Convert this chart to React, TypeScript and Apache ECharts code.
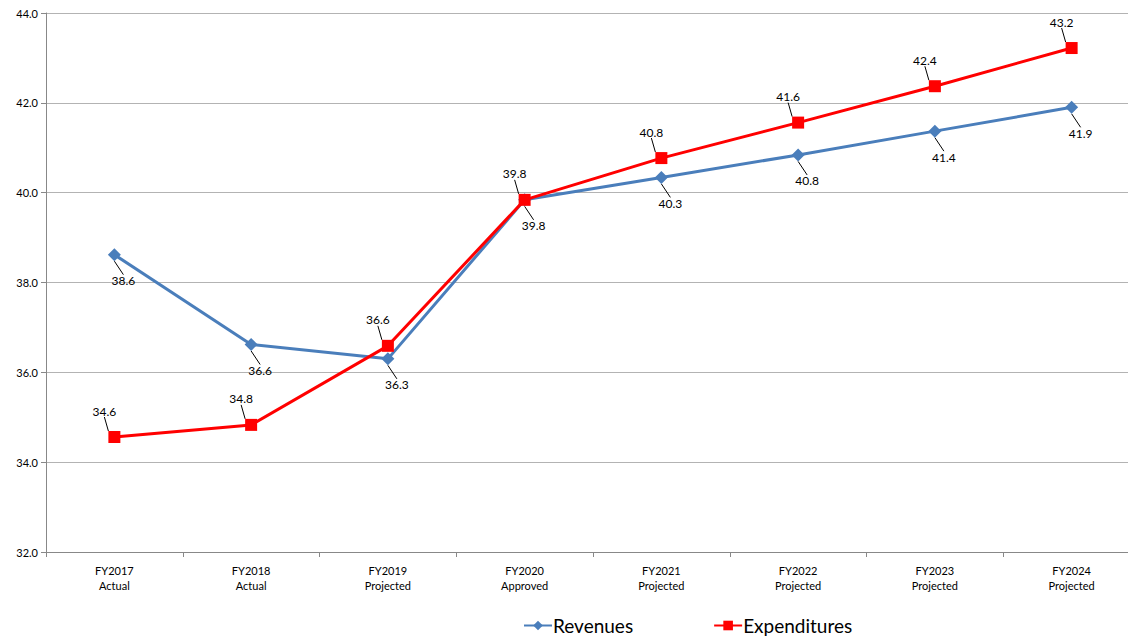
import React, { useEffect, useRef } from "react";
import * as echarts from "echarts";

const categories = [
  "FY2017\nActual",
  "FY2018\nActual",
  "FY2019\nProjected",
  "FY2020\nApproved",
  "FY2021\nProjected",
  "FY2022\nProjected",
  "FY2023\nProjected",
  "FY2024\nProjected",
];
const revenues = [38.62, 36.62, 36.3, 39.84, 40.34, 40.84, 41.37, 41.9];
const expenditures = [34.56, 34.83, 36.59, 39.84, 40.77, 41.56, 42.37, 43.22];
const yMin = 32;
const yMax = 44;
const yStep = 2;

const FONT = "Lato, 'Open Sans', sans-serif";

export default function App() {
  const ref = useRef<HTMLDivElement>(null);
  useEffect(() => {
    document.body.style.margin = "0";
    const chart = echarts.init(ref.current!, null, { renderer: "svg" });
    chart.setOption({
      animation: false,
      textStyle: { fontFamily: FONT },
      grid: { left: 46, top: 13, right: 10, bottom: 85, containLabel: false },
      legend: {
        bottom: -3,
        left: 518,
        itemGap: 80,
        itemWidth: 28,
        itemHeight: 12,
        textStyle: { fontSize: 19, color: "#000", fontFamily: FONT, padding: [0, 0, 0, -4] },
        data: ["Revenues", "Expenditures"],
      },
      xAxis: {
        type: "category",
        data: categories,
        boundaryGap: true,
        axisLine: { lineStyle: { color: "#888", width: 1 } },
        axisTick: { show: true, alignWithLabel: false, length: 5, lineStyle: { color: "#888" } },
        axisLabel: { color: "#000", fontSize: 11, lineHeight: 15, margin: 11, fontFamily: FONT },
        splitLine: { show: false },
      },
      yAxis: {
        type: "value",
        min: yMin,
        max: yMax,
        interval: yStep,
        axisLine: { show: true, lineStyle: { color: "#888" } },
        axisTick: { show: true, length: 5, lineStyle: { color: "#888" } },
        axisLabel: {
          color: "#000",
          fontSize: 11,
          margin: 8,
          fontFamily: FONT,
          formatter: (v: number) => v.toFixed(1),
        },
        splitLine: { show: true, lineStyle: { color: "#b3b3b3", width: 1 } },
      },
      series: [
        {
          name: "Revenues",
          type: "line",
          data: revenues,
          symbol: "diamond",
          symbolSize: 13,
          lineStyle: { color: "#4a7ebb", width: 3 },
          itemStyle: { color: "#4a7ebb" },
          label: {
            show: true,
            position: "inside",
            color: "#000",
            fontSize: 12,
            fontFamily: FONT,
            formatter: (p: any) => Number(p.value).toFixed(1),
          },
          labelLayout: { dx: 9, dy: 26 },
          labelLine: { show: true, lineStyle: { color: "#000", width: 1 } },
          z: 2,
        },
        {
          name: "Expenditures",
          type: "line",
          data: expenditures,
          symbol: "rect",
          symbolSize: 12,
          lineStyle: { color: "#ff0000", width: 3 },
          itemStyle: { color: "#ff0000" },
          label: {
            show: true,
            position: "inside",
            color: "#000",
            fontSize: 12,
            fontFamily: FONT,
            formatter: (p: any) => Number(p.value).toFixed(1),
          },
          labelLayout: { dx: -10, dy: -26 },
          labelLine: { show: true, lineStyle: { color: "#000", width: 1 } },
          z: 3,
        },
      ],
    });
    return () => chart.dispose();
  }, []);
  return (
    <div style={{ width: 1128, height: 637, overflow: "hidden", position: "relative" }}>
      <div ref={ref} style={{ width: 1150, height: 637 }} />
    </div>
  );
}
